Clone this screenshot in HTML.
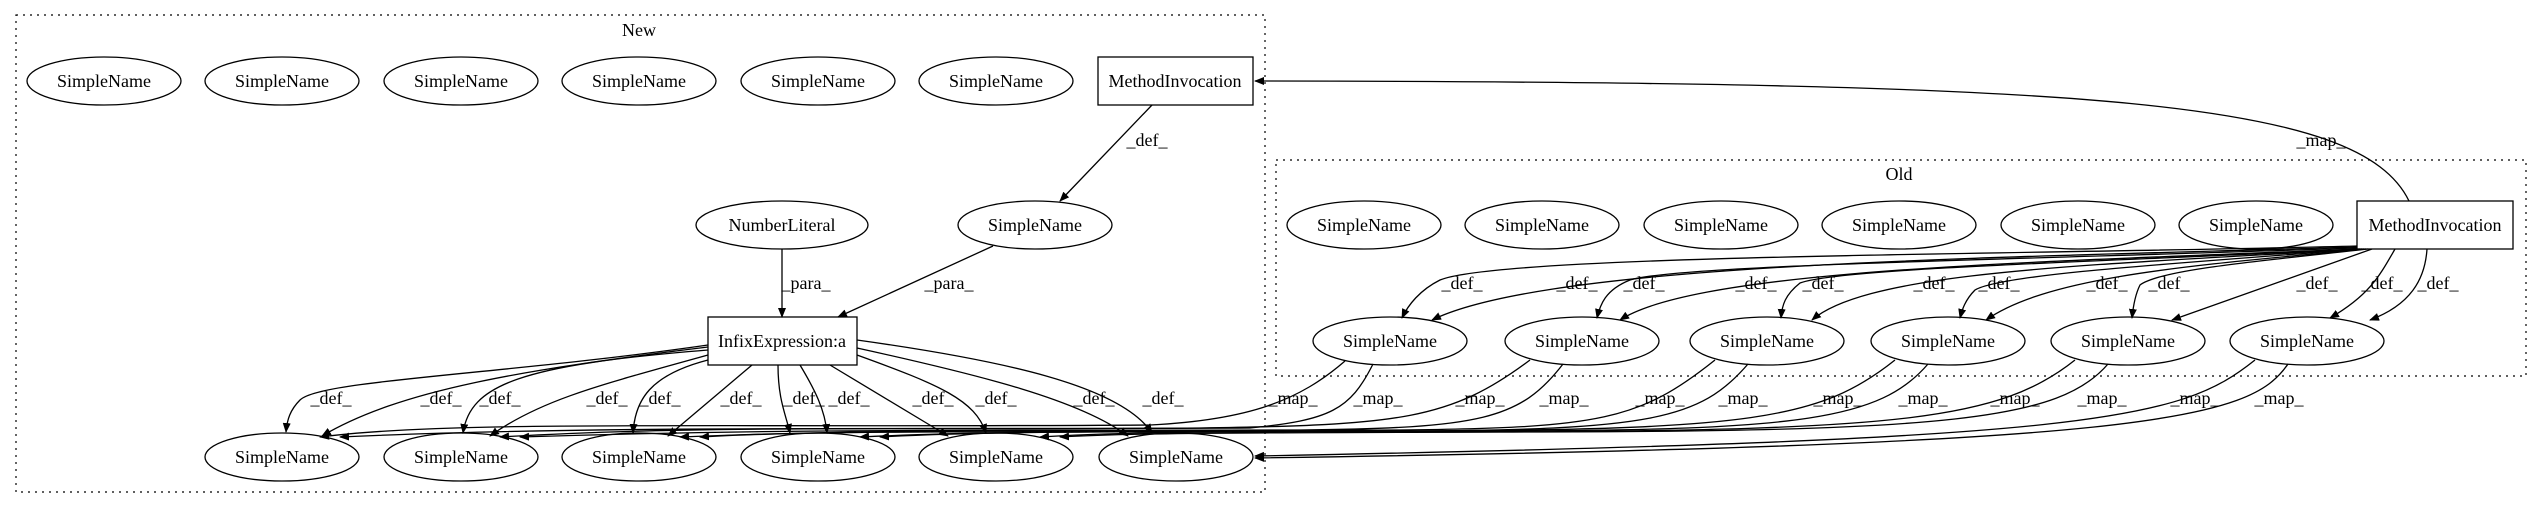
<!DOCTYPE html>
<html><head><meta charset="utf-8"><style>
html,body{margin:0;padding:0;background:#fff;}
svg{display:block;}
text{font-family:"Liberation Serif",serif;font-size:18px;fill:#000;}
</style></head><body>
<svg width="2541" height="508" viewBox="0 0 2541 508" xmlns="http://www.w3.org/2000/svg">
<defs><marker id="a" markerWidth="10" markerHeight="8" refX="9" refY="4" orient="auto" markerUnits="userSpaceOnUse"><path d="M0,0 L10,4 L0,8 Z" fill="#000"/></marker></defs>
<g fill="none" stroke="#000" stroke-width="1.2" stroke-dasharray="2,5">
<rect x="16" y="15" width="1249" height="477"/>
<rect x="1276" y="160" width="1250" height="216"/>
</g>
<text x="639" y="36" text-anchor="middle">New</text>
<text x="1899" y="180" text-anchor="middle">Old</text>
<g fill="#fff" stroke="#000" stroke-width="1.3">
<ellipse cx="104" cy="81" rx="77" ry="24"/><ellipse cx="282" cy="81" rx="77" ry="24"/><ellipse cx="461" cy="81" rx="77" ry="24"/><ellipse cx="639" cy="81" rx="77" ry="24"/><ellipse cx="818" cy="81" rx="77" ry="24"/><ellipse cx="996" cy="81" rx="77" ry="24"/>
<rect x="1098" y="57" width="155" height="48"/>
<ellipse cx="782" cy="225" rx="86" ry="24"/><ellipse cx="1035" cy="225" rx="77" ry="24"/>
<rect x="708" y="317" width="149" height="48"/>
<ellipse cx="282" cy="457" rx="77" ry="24"/><ellipse cx="461" cy="457" rx="77" ry="24"/><ellipse cx="639" cy="457" rx="77" ry="24"/><ellipse cx="818" cy="457" rx="77" ry="24"/><ellipse cx="996" cy="457" rx="77" ry="24"/><ellipse cx="1176" cy="457" rx="77" ry="24"/>
<ellipse cx="1364" cy="225" rx="77" ry="24"/><ellipse cx="1542" cy="225" rx="77" ry="24"/><ellipse cx="1721" cy="225" rx="77" ry="24"/><ellipse cx="1899" cy="225" rx="77" ry="24"/><ellipse cx="2078" cy="225" rx="77" ry="24"/><ellipse cx="2256" cy="225" rx="77" ry="24"/>
<rect x="2357" y="201" width="156" height="48"/>
<ellipse cx="1390" cy="341" rx="77" ry="24"/><ellipse cx="1582" cy="341" rx="77" ry="24"/><ellipse cx="1767" cy="341" rx="77" ry="24"/><ellipse cx="1948" cy="341" rx="77" ry="24"/><ellipse cx="2128" cy="341" rx="77" ry="24"/><ellipse cx="2307" cy="341" rx="77" ry="24"/>
</g>
<g text-anchor="middle">
<text x="104" y="87">SimpleName</text><text x="282" y="87">SimpleName</text><text x="461" y="87">SimpleName</text><text x="639" y="87">SimpleName</text><text x="818" y="87">SimpleName</text><text x="996" y="87">SimpleName</text>
<text x="1175" y="87">MethodInvocation</text>
<text x="782" y="231">NumberLiteral</text><text x="1035" y="231">SimpleName</text>
<text x="782" y="347">InfixExpression:a</text>
<text x="282" y="463">SimpleName</text><text x="461" y="463">SimpleName</text><text x="639" y="463">SimpleName</text><text x="818" y="463">SimpleName</text><text x="996" y="463">SimpleName</text><text x="1176" y="463">SimpleName</text>
<text x="1364" y="231">SimpleName</text><text x="1542" y="231">SimpleName</text><text x="1721" y="231">SimpleName</text><text x="1899" y="231">SimpleName</text><text x="2078" y="231">SimpleName</text><text x="2256" y="231">SimpleName</text>
<text x="2435" y="231">MethodInvocation</text>
<text x="1390" y="347">SimpleName</text><text x="1582" y="347">SimpleName</text><text x="1767" y="347">SimpleName</text><text x="1948" y="347">SimpleName</text><text x="2128" y="347">SimpleName</text><text x="2307" y="347">SimpleName</text>
</g>
<g fill="none" stroke="#000" stroke-width="1.3" marker-end="url(#a)">
<path d="M1152,105 L1060,201"/>
<path d="M782,249 L782,317"/>
<path d="M993,246 L838,317"/>
<path d="M2409,201 C2360,100 2100,82 1255,81"/>
<!-- infix defs -->
<path d="M708,345 C500,375 320,380 300,400 C290,410 287,420 286,432"/>
<path d="M708,347 C520,370 400,390 322,436"/>
<path d="M708,350 C520,365 470,385 463,433"/>
<path d="M708,355 C600,385 540,400 490,436"/>
<path d="M708,360 C650,375 635,400 633,433"/>
<path d="M752,365 L668,436"/>
<path d="M778,365 C778,400 786,415 790,433"/>
<path d="M800,365 C815,390 825,410 827,433"/>
<path d="M830,365 L948,436"/>
<path d="M857,355 C940,385 975,400 986,433"/>
<path d="M857,348 C980,375 1080,400 1128,436"/>
<path d="M857,340 C1000,360 1120,385 1152,433"/>
<!-- old defs -->
<path d="M2357,246 C2000,255 1500,255 1440,280 C1420,290 1408,305 1402,318"/>
<path d="M2357,247 C2000,258 1550,262 1432,320"/>
<path d="M2357,248 C2000,260 1680,265 1630,280 C1605,290 1600,305 1597,318"/>
<path d="M2357,249 C2050,262 1700,268 1620,320"/>
<path d="M2360,249 C2100,262 1840,268 1800,283 C1785,295 1782,305 1781,318"/>
<path d="M2362,249 C2100,265 1870,270 1812,320"/>
<path d="M2364,249 C2150,265 2000,275 1975,290 C1965,300 1962,310 1960,318"/>
<path d="M2366,249 C2200,265 2050,275 1986,320"/>
<path d="M2368,249 C2250,262 2160,270 2140,285 C2135,295 2133,308 2132,318"/>
<path d="M2372,249 L2172,320"/>
<path d="M2395,249 C2380,275 2370,295 2330,318"/>
<path d="M2427,249 C2425,280 2410,305 2370,320"/>
<!-- map edges -->
<path d="M1345,361 C1300,400 1250,420 1150,425 C700,428 450,420 320,437"/>
<path d="M1373,364 C1350,410 1330,420 1250,428 C900,430 600,425 340,437"/>
<path d="M1530,360 C1450,420 1400,425 1200,428 C900,430 700,425 500,437"/>
<path d="M1563,364 C1520,420 1480,428 1300,430 C1000,431 800,428 520,437"/>
<path d="M1715,360 C1640,420 1600,428 1400,430 C1100,431 900,428 680,437"/>
<path d="M1748,364 C1700,420 1650,430 1400,431 C1100,432 800,430 700,437"/>
<path d="M1895,360 C1820,420 1750,430 1400,431 C1200,432 1000,430 860,437"/>
<path d="M1928,364 C1880,420 1800,430 1500,431 C1200,432 1000,430 880,437"/>
<path d="M2075,360 C2000,420 1900,430 1500,432 C1300,432 1150,430 1040,437"/>
<path d="M2108,364 C2060,420 1950,432 1500,432 C1300,433 1150,432 1060,437"/>
<path d="M2255,360 C2180,420 2100,440 1255,456"/>
<path d="M2288,364 C2250,420 2150,445 1255,458"/>
</g>
<g>
<text x="1147" y="146" text-anchor="middle">_def_</text>
<text x="806" y="289" text-anchor="middle">_para_</text>
<text x="949" y="289" text-anchor="middle">_para_</text>
<text x="2321" y="146" text-anchor="middle">_map_</text>
</g>
<g text-anchor="middle">
<text x="331" y="404">_def_</text><text x="441" y="404">_def_</text><text x="500" y="404">_def_</text><text x="607" y="404">_def_</text><text x="660" y="404">_def_</text><text x="741" y="404">_def_</text><text x="804" y="404">_def_</text><text x="849" y="404">_def_</text><text x="933" y="404">_def_</text><text x="996" y="404">_def_</text><text x="1094" y="404">_def_</text><text x="1163" y="404">_def_</text>
<text x="1462" y="289">_def_</text><text x="1577" y="289">_def_</text><text x="1644" y="289">_def_</text><text x="1756" y="289">_def_</text><text x="1823" y="289">_def_</text><text x="1934" y="289">_def_</text><text x="1999" y="289">_def_</text><text x="2107" y="289">_def_</text><text x="2169" y="289">_def_</text><text x="2317" y="289">_def_</text><text x="2382" y="289">_def_</text><text x="2438" y="289">_def_</text>
<text x="1293" y="404">_map_</text><text x="1378" y="404">_map_</text><text x="1480" y="404">_map_</text><text x="1564" y="404">_map_</text><text x="1660" y="404">_map_</text><text x="1743" y="404">_map_</text><text x="1838" y="404">_map_</text><text x="1923" y="404">_map_</text><text x="2015" y="404">_map_</text><text x="2102" y="404">_map_</text><text x="2195" y="404">_map_</text><text x="2279" y="404">_map_</text>
</g>
</svg>
</body></html>
